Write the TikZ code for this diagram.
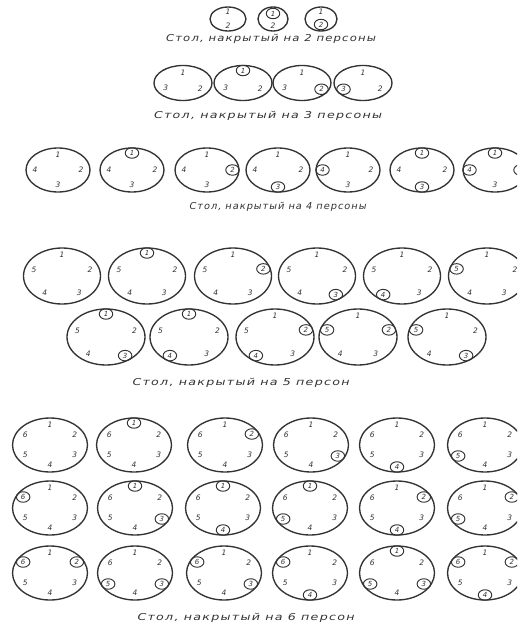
\documentclass[tikz,border=0pt]{standalone}
\usepackage{fontspec}
\usepackage{graphicx}
\setmainfont{DejaVu Sans}
\usetikzlibrary{shapes.geometric}
\definecolor{ink}{HTML}{333333}
\tikzset{
  oval/.style={ellipse, draw=ink, line width=1.35pt, inner sep=0pt},
  pnum/.style={inner sep=0pt, text=ink, font=\itshape\fontsize{7.5}{8}\selectfont},
  cnum/.style={ellipse, draw=ink, line width=0.95pt, inner sep=0pt, minimum width=13.5pt, minimum height=10.5pt, text=ink, font=\itshape\fontsize{7}{8}\selectfont},
  capt/.style={inner sep=0pt, text=ink, font=\itshape\fontsize{9.5}{12}\selectfont\addfontfeatures{LetterSpace=10}}
}
\def\pinx{9}\def\piny{7}\def\cinx{6.5}\def\ciny{5}
% name, cx, cy, rx, ry, n, circled list
\newcommand\ovtab[7]{%
  \node[oval, minimum width={2*#4pt}, minimum height={2*#5pt}] (#1) at (#2,#3) {};
  \foreach \k in {1,...,#6}{%
    \gdef\circflag{0}%
    \foreach \c in {#7}{\ifnum\c=\k\relax\gdef\circflag{1}\fi}%
    \pgfmathsetmacro\ang{90-(\k-1)*360/#6}%
    \ifnum\circflag=1\relax
      \node[cnum] (#1-\k) at ({#2+(#4-\cinx)*cos(\ang)},{#3-(#5-\ciny)*sin(\ang)}) {\k};
    \else
      \node[pnum] (#1-\k) at ({#2+(#4-\pinx)*cos(\ang)},{#3-(#5-\piny)*sin(\ang)}) {\k};
    \fi
  }%
}
\newcommand\captxt[5]{% name, cx, cy, width, text
  \node[capt] (#1) at (#2,#3) {\resizebox{#4pt}{\height}{#5}};
}
\begin{document}
\begin{tikzpicture}[x=1pt,y=-1pt]
\clip (0,0) rectangle (517,628);
\fill[white] (0,0) rectangle (517,628);
% 2 persons
\def\pinx{5}\def\piny{5}\def\cinx{7}\def\ciny{6.5}
\ovtab{a1}{228}{19}{18}{12}{2}{0}
\ovtab{a2}{273}{19}{15}{12}{2}{1}
\ovtab{a3}{321}{19}{16}{12}{2}{2}
\captxt{ca}{271}{39}{210}{Стол, накрытый на 2 персоны}
% 3 persons
\def\pinx{9}\def\piny{7}\def\cinx{6.5}\def\ciny{5}
\ovtab{b1}{183}{83}{29}{17.5}{3}{0}
\ovtab{b2}{243}{83}{29}{17.5}{3}{1}
\ovtab{b3}{302}{83}{29}{17.5}{3}{2}
\ovtab{b4}{363}{83}{29}{17.5}{3}{3}
\captxt{cb}{268}{116}{228}{Стол, накрытый на 3 персоны}
% 4 persons
\ovtab{d1}{58}{170}{32}{22}{4}{0}
\ovtab{d2}{132}{170}{32}{22}{4}{1}
\ovtab{d3}{207}{170}{32}{22}{4}{2}
\ovtab{d4}{278}{170}{32}{22}{4}{3}
\ovtab{d5}{348}{170}{32}{22}{4}{4}
\ovtab{d6}{422}{170}{32}{22}{4}{1,3}
\ovtab{d7}{495}{170}{32}{22}{4}{1,2,4}
\captxt{cd}{278}{207}{177}{Стол, накрытый на 4 персоны}
% 5 persons
\ovtab{e1}{62}{276}{38.5}{28}{5}{0}
\ovtab{e2}{147}{276}{38.5}{28}{5}{1}
\ovtab{e3}{233}{276}{38.5}{28}{5}{2}
\ovtab{e4}{317}{276}{38.5}{28}{5}{3}
\ovtab{e5}{402}{276}{38.5}{28}{5}{4}
\ovtab{e6}{487}{276}{38.5}{28}{5}{5}
\ovtab{f1}{106}{337}{39}{28}{5}{1,3}
\ovtab{f2}{189}{337}{39}{28}{5}{1,4}
\ovtab{f3}{275}{337}{39}{28}{5}{2,4}
\ovtab{f4}{358}{337}{39}{28}{5}{2,5}
\ovtab{f5}{447}{337}{39}{28}{5}{3,5}
\captxt{ce}{241}{383}{217}{Стол, накрытый на 5 персон}
% 6 persons
\ovtab{g1}{50}{445}{37.5}{27}{6}{0}
\ovtab{g2}{134}{445}{37.5}{27}{6}{1}
\ovtab{g3}{225}{445}{37.5}{27}{6}{2}
\ovtab{g4}{311}{445}{37.5}{27}{6}{3}
\ovtab{g5}{397}{445}{37.5}{27}{6}{4}
\ovtab{g6}{485}{445}{37.5}{27}{6}{5}
\ovtab{h1}{50}{508}{37.5}{27}{6}{6}
\ovtab{h2}{135}{508}{37.5}{27}{6}{1,3}
\ovtab{h3}{223}{508}{37.5}{27}{6}{1,4}
\ovtab{h4}{310}{508}{37.5}{27}{6}{1,5}
\ovtab{h5}{397}{508}{37.5}{27}{6}{2,4}
\ovtab{h6}{485}{508}{37.5}{27}{6}{2,5}
\ovtab{i1}{50}{573}{37.5}{27}{6}{2,6}
\ovtab{i2}{135}{573}{37.5}{27}{6}{3,5}
\ovtab{i3}{224}{573}{37.5}{27}{6}{3,6}
\ovtab{i4}{310}{573}{37.5}{27}{6}{4,6}
\ovtab{i5}{397}{573}{37.5}{27}{6}{1,3,5}
\ovtab{i6}{485}{573}{37.5}{27}{6}{2,4,6}
\captxt{ci}{246}{618}{217}{Стол, накрытый на 6 персон}
\end{tikzpicture}
\end{document}
